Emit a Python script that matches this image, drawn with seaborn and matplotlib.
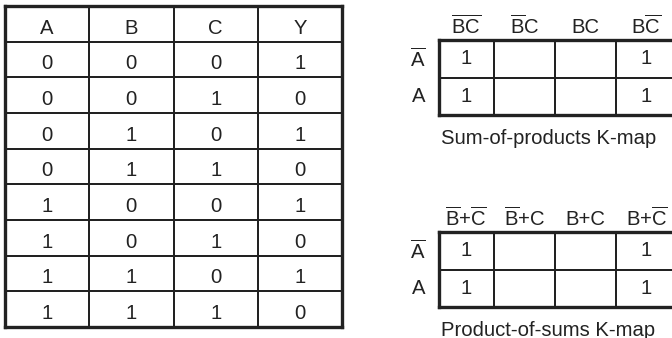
import numpy as np
import pandas as pd
import matplotlib
matplotlib.use("Agg")
import matplotlib.pyplot as plt
import matplotlib.transforms as mtransforms
import seaborn as sns
from matplotlib.colors import ListedColormap

# truth table
headers = ["A", "B", "C", "Y"]
col_a = [0, 0, 0, 0, 1, 1, 1, 1]
col_b = [0, 0, 1, 1, 0, 0, 1, 1]
col_c = [0, 1, 0, 1, 0, 1, 0, 1]
col_y = [1, 0, 1, 0, 1, 0, 1, 0]

# K-maps
sop_cols = [r"$\mathrm{\overline{B}\overline{C}}$", r"$\mathrm{\overline{B}C}$",
            "BC", r"$\mathrm{B\overline{C}}$"]
pos_cols = [r"$\mathrm{\overline{B}{+}\overline{C}}$", r"$\mathrm{\overline{B}{+}C}$",
            "B+C", r"$\mathrm{B{+}\overline{C}}$"]
kmap_rows = [r"$\mathrm{\overline{A}}$", "A"]
sop_values = [[1, 0, 0, 1], [1, 0, 0, 1]]
pos_values = [[1, 0, 0, 1], [1, 0, 0, 1]]

sns.set_style("white")
plt.rcParams["font.family"] = ["Liberation Sans", "DejaVu Sans"]
plt.rcParams["mathtext.fontset"] = "custom"
plt.rcParams["mathtext.rm"] = "Liberation Sans"
plt.rcParams["mathtext.it"] = "Liberation Sans"

INK = "#222222"
FS = 14.6
W, H = 672, 338
fig = plt.figure(figsize=(W / 100, H / 100), dpi=100)
white = ListedColormap(["white"])


def box(left, top, width, height):
    return fig.add_axes([left / W, (H - top - height) / H, width / W, height / H])


def frame(ax):
    for s in ax.spines.values():
        s.set_visible(True)
        s.set_color(INK)
        s.set_linewidth(2.4)


# truth table
table = pd.DataFrame({"A": col_a, "B": col_b, "C": col_c, "Y": col_y})
labels = np.vstack([headers, table.astype(str).values])
ax1 = box(5, 6, 337, 321)
sns.heatmap(np.zeros(labels.shape), annot=labels, fmt="", cmap=white, cbar=False,
            linewidths=1.3, linecolor=INK, annot_kws={"fontsize": FS, "color": INK},
            xticklabels=False, yticklabels=False, ax=ax1)
for t in ax1.texts:
    x, y = t.get_position()
    t.set_position((x, y + 0.12))
frame(ax1)


def kmap(values, cols, top, caption):
    # first column is partly hidden behind the left border, last one runs off the page
    ax = box(439, top, 238, 75)
    vals = np.array(values)
    text = np.where(vals == 1, "1", "")
    sns.heatmap(np.zeros(vals.shape), annot=text, fmt="", cmap=white, cbar=False,
                linewidths=1.3, linecolor=INK, annot_kws={"fontsize": FS, "color": INK},
                xticklabels=False, yticklabels=kmap_rows, ax=ax)
    ax.set_xlim(0.1, vals.shape[1])
    centers = np.arange(vals.shape[1]) + 0.5
    centers[0] = 0.55
    for t in ax.texts:
        x, y = t.get_position()
        if x < 1:
            t.set_position((0.55, y))
    # column headers; mathtext with overline sits a touch high, nudge it down
    base = ax.get_xaxis_transform()
    for cx, lab in zip(centers, cols):
        up = 4.5 if lab.startswith("$") else 5.0
        tr = mtransforms.offset_copy(base, fig=fig, y=up, units="points")
        ax.text(cx, 1, lab, transform=tr, ha="center", va="baseline",
                fontsize=FS, color=INK)
    ax.tick_params(length=0, labelsize=FS, labelcolor=INK)
    ax.tick_params(axis="y", pad=10, labelrotation=0)
    frame(ax)
    ax.text(0.01, -0.18, caption, transform=ax.transAxes, ha="left", va="top",
            fontsize=FS, color=INK)


kmap(sop_values, sop_cols, 40, "Sum-of-products K-map")
kmap(pos_values, pos_cols, 232, "Product-of-sums K-map")

fig.savefig("out.png", dpi=100)
